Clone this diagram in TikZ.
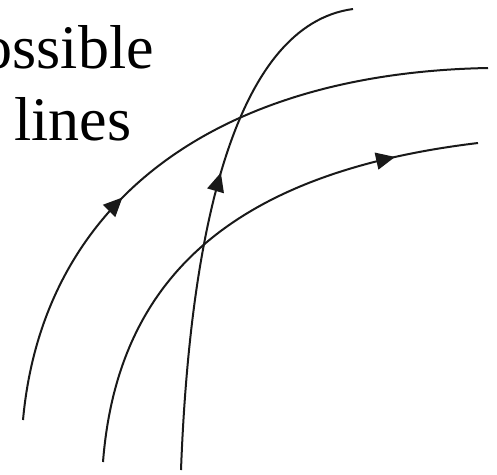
\documentclass[tikz,border=0pt]{standalone}
\usepackage{fontspec}
\setmainfont{Liberation Serif}
\usetikzlibrary{arrows.meta,decorations.markings}
\tikzset{
  fieldline/.style={line width=2pt, black!90},
  arrowat/.style={postaction={decorate}, decoration={markings,
     mark=at position #1 with {\arrow{Triangle[length=19pt,width=17pt]}}}},
  lbl/.style={inner sep=0pt, font=\fontsize{62}{72}\selectfont}
}
\begin{document}
\begin{tikzpicture}[x=1pt,y=-1pt]
\useasboundingbox (0,0) rectangle (497,474);
\clip (0,0) rectangle (497,474);
\node[lbl, anchor=base east] (t1) at (154,68) {Impossible};
\node[lbl, anchor=base west] (t2) at (14,140) {lines};
% curve A (outer)
\coordinate (a0) at (23,420);
\coordinate (a1) at (488,68);
\draw[fieldline, arrowat=0.385] (a0) .. controls (43,200) and (218,73) .. (a1);
% curve B (middle)
\coordinate (b0) at (103,462);
\coordinate (b1) at (478,143);
\draw[fieldline, arrowat=0.845] (b0) .. controls (117,282) and (228,173) .. (b1);
% curve C (steep)
\coordinate (c0) at (181,470);
\coordinate (c1) at (353,9);
\draw[fieldline, arrowat=0.575] (c0) .. controls (190,230) and (235,25) .. (c1);
\end{tikzpicture}
\end{document}
